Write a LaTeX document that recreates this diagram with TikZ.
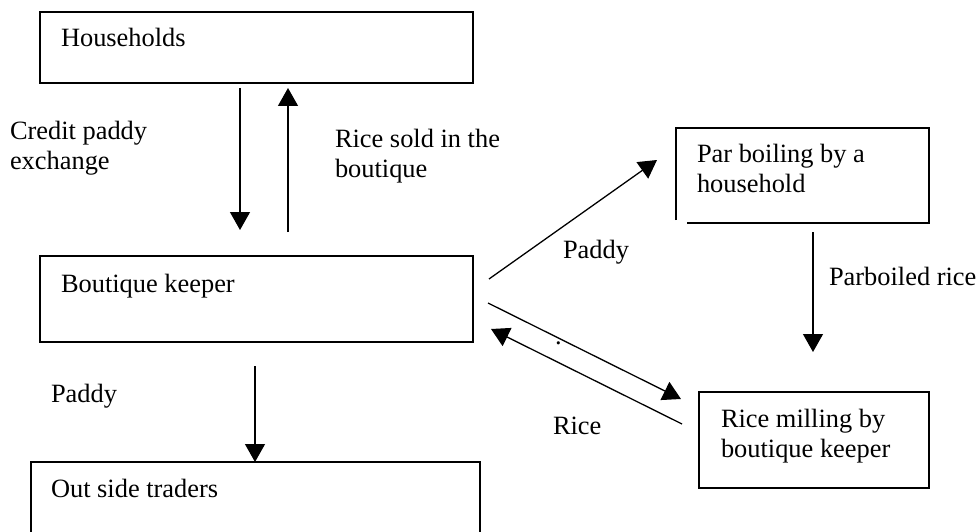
\documentclass[tikz,border=0pt]{standalone}
\usepackage{fontspec}
\setmainfont{Liberation Serif}
\usetikzlibrary{arrows.meta,calc}
\begin{document}
\begin{tikzpicture}[x=1pt,y=-1pt,
  box/.style={draw=black,line width=1.6pt,inner sep=0pt,outer sep=0pt,anchor=north west},
  nobox/.style={inner sep=0pt,outer sep=0pt,anchor=north west},
  txt/.style={inner sep=0pt,outer sep=0pt,anchor=base west,align=left,font=\fontsize{26.4}{30}\selectfont},
  arr/.style={line width=1.3pt,-{Triangle[length=18pt,width=20pt]}}]
\useasboundingbox[fill=white] (0,0) rectangle (980,532);
% boxes
\node[box,minimum width=433pt,minimum height=71pt] (hh) at (40,12) {};
\node[box,minimum width=433pt,minimum height=86pt] (bk) at (40,256) {};
\node[box,minimum width=449pt,minimum height=80pt] (ot) at (31,462) {};
\node[nobox,minimum width=253pt,minimum height=95pt] (pb) at (676,128) {};
\draw[line width=1.6pt] ([yshift=3pt]pb.south west) -- (pb.north west) -- (pb.north east) -- (pb.south east) -- ([xshift=11pt]pb.south west);
\node[box,minimum width=230pt,minimum height=96pt] (rm) at (699,392) {};
% box texts (multi-line nodes are anchored at their last baseline)
\node[txt] (thh) at (61,47) {Households};
\node[txt] (tbk) at (61,292) {Boutique keeper};
\node[txt] (tot) at (51,497) {Out side traders};
\node[txt] (tpb) at (697,193) {Par boiling by a\\household};
\node[txt] (trm) at (721,457) {Rice milling by\\boutique keeper};
% labels
\node[txt] (lcp) at (10,170) {Credit paddy\\exchange};
\node[txt] (lrs) at (335,178) {Rice sold in the\\boutique};
\node[txt] (lpd1) at (51,402) {Paddy};
\node[txt] (lpd2) at (563,258) {Paddy};
\node[txt] (lpr) at (829,285) {Parboiled rice};
\node[txt] (lri) at (553,434) {Rice};
\node[txt] (ldot) at (555,344) {.};
% connectors
\draw[arr] ($(hh.south west)+(200,5)$) -- ($(bk.north west)+(200,-26)$);
\draw[arr] ($(bk.north west)+(248,-24)$) -- ($(hh.south west)+(248,5)$);
\draw[arr] ($(bk.south west)+(215,24)$) -- ($(ot.north west)+(224,0)$);
\draw[arr] ($(bk.north east)+(16,23)$) -- ($(pb.north west)+(-19,32)$);
\draw[arr] ($(pb.south west)+(137,9)$) -- ($(rm.north west)+(114,-40)$);
\draw[arr] ($(bk.north east)+(15,47)$) -- ($(rm.north west)+(-18,7)$);
\draw[arr] ($(rm.north west)+(-17,32)$) -- ($(bk.north east)+(18,73)$);
\end{tikzpicture}
\end{document}
